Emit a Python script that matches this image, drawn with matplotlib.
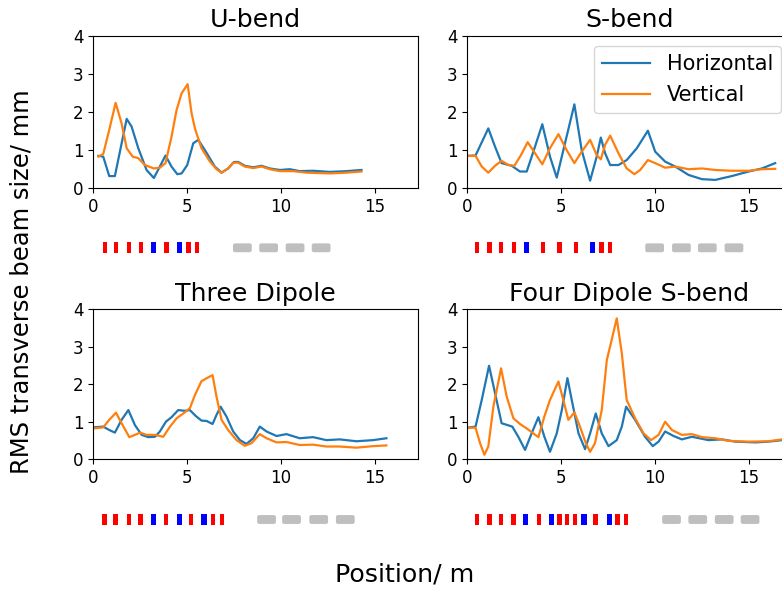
import matplotlib
matplotlib.use("Agg")
import matplotlib.pyplot as plt
from matplotlib.patches import Rectangle, FancyBboxPatch

# ---------------- beam size data (position in m, RMS size in mm) ----------------
ubend_h_s = [0.27, 0.53, 0.85, 1.15, 1.78, 2.04, 2.40, 2.84, 3.23, 3.55, 3.85, 4.17, 4.48, 4.71,
             5.01, 5.33, 5.60, 6.04, 6.48, 6.84, 7.19, 7.50, 7.73, 8.08, 8.53, 8.97, 9.41, 9.95,
             10.48, 11.0, 11.72, 12.6, 13.5, 14.3]
ubend_h = [0.85, 0.83, 0.32, 0.32, 1.82, 1.62, 1.05, 0.48, 0.27, 0.57, 0.86, 0.57, 0.37, 0.39,
           0.61, 1.18, 1.27, 0.93, 0.57, 0.41, 0.52, 0.69, 0.69, 0.59, 0.55, 0.59, 0.52, 0.48,
           0.50, 0.45, 0.46, 0.43, 0.45, 0.48]
ubend_v_s = [0.27, 0.53, 0.85, 1.19, 1.51, 1.78, 2.10, 2.40, 2.75, 3.23, 3.55, 3.85, 4.17, 4.44,
             4.71, 5.03, 5.24, 5.42, 5.77, 6.22, 6.57, 6.84, 7.19, 7.46, 7.73, 8.08, 8.53, 8.97,
             9.41, 9.95, 10.66, 11.37, 12.6, 13.5, 14.3]
ubend_v = [0.83, 0.90, 1.53, 2.24, 1.70, 1.05, 0.83, 0.79, 0.61, 0.52, 0.54, 0.66, 1.35, 2.05,
           2.49, 2.73, 1.97, 1.57, 1.05, 0.70, 0.50, 0.41, 0.52, 0.67, 0.67, 0.57, 0.53, 0.57,
           0.50, 0.45, 0.45, 0.41, 0.39, 0.41, 0.44]

sbend_h_s = [0.0, 0.44, 1.12, 1.48, 1.83, 2.37, 2.81, 3.17, 3.61, 4.00, 4.41, 4.77, 5.21, 5.71,
             6.10, 6.55, 6.90, 7.12, 7.35, 7.62, 8.06, 8.50, 9.04, 9.63, 10.02, 10.55, 11.09,
             11.8, 12.51, 13.22, 14.1, 15.0, 15.71, 16.42]
sbend_h = [0.85, 0.86, 1.57, 1.09, 0.66, 0.59, 0.44, 0.44, 1.09, 1.68, 0.83, 0.28, 1.18, 2.20,
           1.00, 0.20, 0.83, 1.33, 0.92, 0.61, 0.61, 0.74, 1.05, 1.51, 0.96, 0.70, 0.57,
           0.35, 0.24, 0.22, 0.32, 0.44, 0.52, 0.66]
sbend_v_s = [0.0, 0.44, 0.77, 1.12, 1.48, 1.83, 2.19, 2.51, 2.86, 3.22, 3.61, 4.00, 4.41, 4.86,
             5.30, 5.71, 6.10, 6.55, 6.90, 7.12, 7.35, 7.62, 8.06, 8.50, 8.91, 9.22, 9.63, 10.02,
             10.55, 11.09, 11.8, 12.51, 13.22, 14.1, 15.0, 15.71, 16.42]
sbend_v = [0.85, 0.85, 0.57, 0.41, 0.59, 0.72, 0.61, 0.59, 0.87, 1.21, 0.92, 0.63, 1.05, 1.42,
           1.00, 0.66, 0.96, 1.27, 0.87, 0.76, 1.14, 1.38, 0.92, 0.52, 0.37, 0.48, 0.74, 0.66,
           0.54, 0.57, 0.50, 0.52, 0.48, 0.46, 0.46, 0.50, 0.51]

three_h_s = [0.0, 0.53, 0.85, 1.15, 1.51, 1.87, 2.22, 2.58, 2.93, 3.29, 3.55, 3.87, 4.17, 4.53,
             4.88, 5.15, 5.47, 5.77, 6.04, 6.36, 6.57, 6.79, 7.10, 7.46, 7.82, 8.17, 8.53, 8.88,
             9.24, 9.77, 10.3, 11.01, 11.72, 12.43, 13.14, 14.03, 14.92, 15.63]
three_h = [0.85, 0.87, 0.78, 0.71, 1.05, 1.31, 0.91, 0.65, 0.59, 0.60, 0.74, 1.00, 1.12, 1.31,
           1.29, 1.31, 1.15, 1.03, 1.02, 0.94, 1.18, 1.40, 1.14, 0.74, 0.51, 0.41, 0.56, 0.87,
           0.74, 0.62, 0.67, 0.56, 0.59, 0.51, 0.53, 0.48, 0.51, 0.56]
three_v_s = [0.0, 0.53, 0.85, 1.21, 1.51, 1.92, 2.22, 2.49, 2.84, 3.29, 3.73, 4.09, 4.44, 4.80,
             5.15, 5.42, 5.77, 6.13, 6.36, 6.57, 6.84, 7.19, 7.64, 8.08, 8.44, 8.88, 9.24, 9.77,
             10.3, 11.01, 11.72, 12.43, 13.14, 14.03, 14.92, 15.63]
three_v = [0.82, 0.85, 1.05, 1.24, 0.96, 0.59, 0.65, 0.71, 0.65, 0.65, 0.60, 0.87, 1.09, 1.22,
           1.36, 1.71, 2.08, 2.18, 2.24, 1.67, 1.05, 0.78, 0.51, 0.36, 0.43, 0.67, 0.56, 0.45,
           0.46, 0.38, 0.39, 0.34, 0.34, 0.31, 0.35, 0.37]

four_h_s = [0.0, 0.44, 0.77, 1.16, 1.48, 1.83, 2.40, 2.72, 3.08, 3.43, 3.79, 4.11, 4.41, 4.77,
            5.04, 5.34, 5.57, 5.93, 6.28, 6.55, 6.85, 7.17, 7.53, 7.97, 8.24, 8.47, 8.95, 9.48,
            9.89, 10.2, 10.55, 11.0, 11.44, 11.98, 12.86, 13.58, 14.29, 15.36, 16.07, 16.78]
four_h = [0.84, 0.87, 1.58, 2.49, 1.76, 0.96, 0.87, 0.60, 0.25, 0.69, 1.12, 0.60, 0.20, 0.69,
          1.31, 2.16, 1.58, 0.69, 0.27, 0.69, 1.22, 0.69, 0.35, 0.51, 0.87, 1.40, 1.05, 0.60,
          0.35, 0.47, 0.74, 0.62, 0.53, 0.60, 0.51, 0.53, 0.47, 0.45, 0.47, 0.51]
four_v_s = [0.0, 0.44, 0.68, 0.91, 1.12, 1.39, 1.80, 2.10, 2.46, 2.81, 3.17, 3.52, 3.79, 4.11,
            4.41, 4.86, 5.12, 5.39, 5.71, 6.01, 6.32, 6.55, 6.81, 7.17, 7.44, 7.70, 7.97, 8.24,
            8.50, 8.95, 9.40, 9.80, 10.2, 10.55, 10.91, 11.44, 11.98, 12.51, 13.22, 13.93, 15.0,
            16.07, 16.78]
four_v = [0.84, 0.84, 0.43, 0.12, 0.34, 1.40, 2.42, 1.67, 1.09, 0.94, 0.82, 0.69, 0.59, 1.14,
          1.58, 2.07, 1.58, 1.05, 1.25, 0.87, 0.43, 0.20, 0.43, 1.31, 2.64, 3.18, 3.75, 2.82,
          1.58, 1.09, 0.69, 0.51, 0.65, 1.00, 0.78, 0.65, 0.67, 0.59, 0.56, 0.49, 0.47,
          0.48, 0.53]

# ---------------- lattice element centres (m) ----------------
ubend_quads = [0.62, 1.20, 1.91, 2.54, 3.90, 5.08, 5.52]
ubend_dipoles = [3.22, 4.60]
ubend_gray = [7.95, 9.35, 10.76, 12.15]

sbend_quads = [0.52, 1.18, 1.80, 2.49, 4.05, 4.92, 5.78, 7.15, 7.60]
sbend_dipoles = [3.15, 6.67]
sbend_gray = [9.99, 11.42, 12.80, 14.22]

three_quads = [0.60, 1.18, 1.89, 2.51, 3.88, 5.22, 6.38, 6.87]
three_dipoles = [3.20, 4.58, 5.91]
three_gray = [9.24, 10.57, 12.02, 13.44]

four_quads = [0.52, 1.18, 1.81, 2.47, 3.84, 4.92, 5.33, 5.76, 6.83, 8.01, 8.46]
four_dipoles = [3.11, 4.48, 6.22, 7.57]
four_gray = [10.89, 12.29, 13.70, 15.08]

titles = ["U-bend", "S-bend", "Three Dipole", "Four Dipole S-bend"]
xticks = [0, 5, 10, 15]
yticks = [0, 1, 2, 3, 4]

BLUE = "#1f77b4"
ORANGE = "#ff7f0e"

W, H = 782, 591
fig = plt.figure(figsize=(W / 100, H / 100), dpi=100)


def px_axes(left, top, right, bottom):
    return fig.add_axes([left / W, 1 - bottom / H, (right - left) / W, (bottom - top) / H])


panels = [
    ((93.3, 35.7, 417.7, 188.3), (241.8, 253.8), ubend_h_s, ubend_h, ubend_v_s, ubend_v,
     ubend_quads, ubend_dipoles, ubend_gray),
    ((467.3, 35.7, 791.7, 188.3), (241.8, 253.8), sbend_h_s, sbend_h, sbend_v_s, sbend_v,
     sbend_quads, sbend_dipoles, sbend_gray),
    ((93.3, 309.0, 417.7, 459.3), (513.5, 525.5), three_h_s, three_h, three_v_s, three_v,
     three_quads, three_dipoles, three_gray),
    ((467.3, 309.0, 791.7, 459.3), (513.5, 525.5), four_h_s, four_h, four_v_s, four_v,
     four_quads, four_dipoles, four_gray),
]

XMAX = 17.3
for i, (box, mrow, hs, hv, vs, vv, quads, dips, grays) in enumerate(panels):
    ax = px_axes(*box)
    ax.plot(hs, hv, color=BLUE, lw=1.6, label="Horizontal")
    ax.plot(vs, vv, color=ORANGE, lw=1.6, label="Vertical")
    ax.set_xlim(0, XMAX)
    ax.set_ylim(0, 4)
    ax.set_xticks(xticks)
    ax.set_yticks(yticks)
    ax.tick_params(labelsize=12)
    ax.set_title(titles[i], fontsize=18.2)
    if i == 1:
        ax.legend(loc="upper right", fontsize=15, handlelength=2.3)

    # magnet lattice strip under each panel
    mx = px_axes(box[0], mrow[0], box[2], mrow[1])
    mx.set_xlim(0, XMAX)
    mx.set_ylim(-1, 1)
    mx.axis("off")
    for c in quads:
        mx.add_patch(Rectangle((c - 0.115, -0.9), 0.23, 1.8, color="red", lw=0))
    for c in dips:
        mx.add_patch(Rectangle((c - 0.14, -0.9), 0.28, 1.8, color="blue", lw=0))
    for c in grays:
        mx.add_patch(FancyBboxPatch((c - 0.5, -0.74), 1.0, 1.48,
                                    boxstyle="round,pad=0,rounding_size=0.12",
                                    mutation_aspect=2.7, color="#bfbfbf", lw=0))

fig.text(405 / W, 1 - 575 / H, "Position/ m", ha="center", va="center", fontsize=18.2)
fig.text(22 / W, 1 - 282 / H, "RMS transverse beam size/ mm", ha="center", va="center",
         rotation=90, fontsize=17.5)

fig.savefig("out.png", dpi=100)
